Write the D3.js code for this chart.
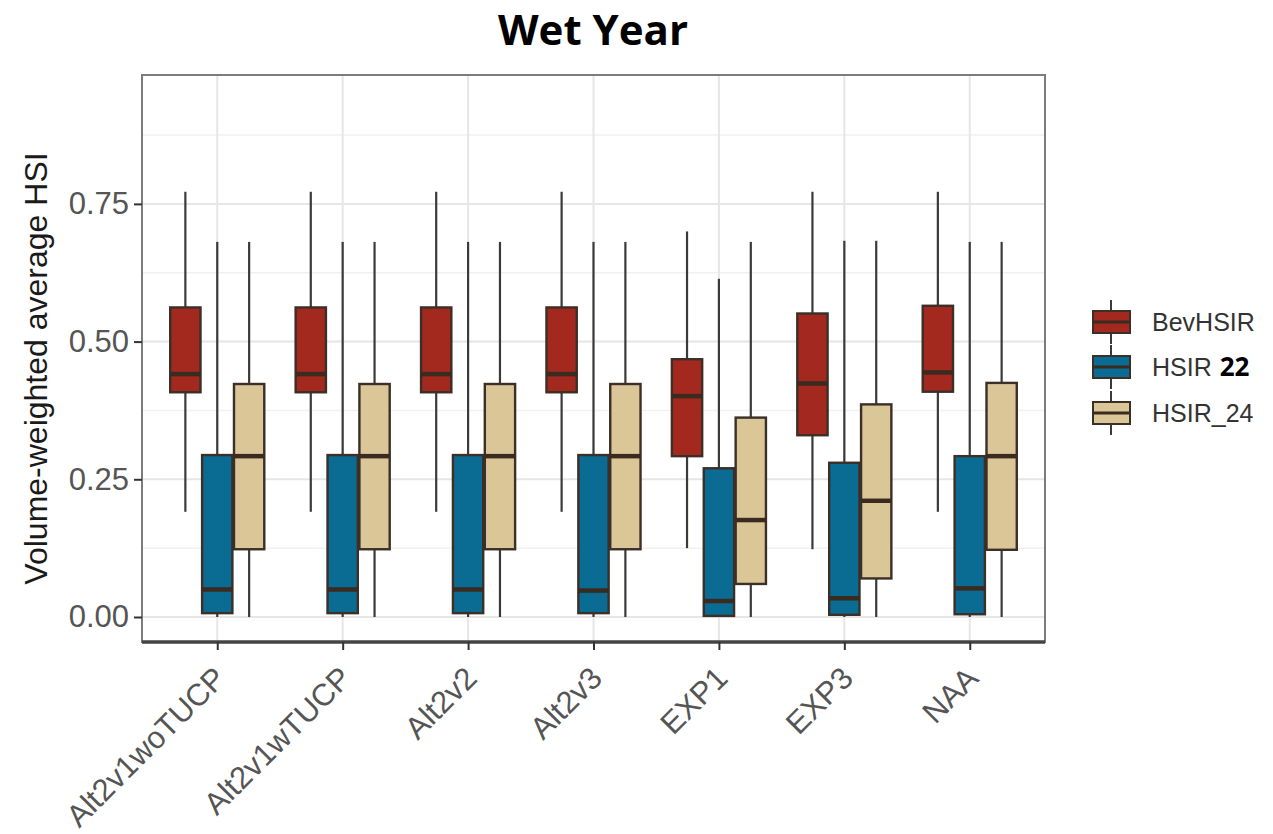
<!DOCTYPE html>
<html>
<head>
<meta charset="utf-8">
<script src="https://cdn.jsdelivr.net/npm/d3@7"></script>
<style>
  html, body { margin: 0; padding: 0; background: #fff; }
  svg { display: block; }
</style>
</head>
<body>
<svg id="chart" width="1273" height="834"></svg>
<script>
// Scenario names along the x axis
const categories = ["Alt2v1woTUCP", "Alt2v1wTUCP", "Alt2v2", "Alt2v3", "EXP1", "EXP3", "NAA"];
const seriesNames = ["BevHSIR", "HSIR 22", "HSIR_24"];
const yTicks = [0, 0.25, 0.5, 0.75];
const yTickLabels = ["0.00", "0.25", "0.50", "0.75"];

// BevHSIR box statistics per scenario
const bevMin = [0.191, 0.191, 0.191, 0.191, 0.125, 0.123, 0.191];
const bevQ1  = [0.408, 0.408, 0.408, 0.408, 0.292, 0.330, 0.409];
const bevMed = [0.441, 0.441, 0.441, 0.441, 0.401, 0.424, 0.444];
const bevQ3  = [0.562, 0.562, 0.562, 0.562, 0.468, 0.551, 0.565];
const bevMax = [0.772, 0.772, 0.772, 0.772, 0.700, 0.772, 0.772];

// HSIR 22 box statistics per scenario
const h22Min = [0.000, 0.000, 0.000, 0.000, 0.000, 0.000, 0.000];
const h22Q1  = [0.007, 0.007, 0.007, 0.007, 0.002, 0.004, 0.005];
const h22Med = [0.050, 0.050, 0.050, 0.048, 0.029, 0.034, 0.052];
const h22Q3  = [0.294, 0.294, 0.294, 0.294, 0.270, 0.280, 0.292];
const h22Max = [0.681, 0.681, 0.681, 0.681, 0.614, 0.683, 0.681];

// HSIR_24 box statistics per scenario
const h24Min = [0.000, 0.000, 0.000, 0.000, 0.000, 0.000, 0.000];
const h24Q1  = [0.123, 0.123, 0.123, 0.123, 0.060, 0.070, 0.122];
const h24Med = [0.292, 0.292, 0.292, 0.292, 0.176, 0.211, 0.292];
const h24Q3  = [0.423, 0.423, 0.423, 0.423, 0.362, 0.386, 0.425];
const h24Max = [0.681, 0.681, 0.681, 0.681, 0.681, 0.683, 0.681];

const fills = ["#a3291e", "#0b6c93", "#dbc698"];

const statsBySeries = [
  [bevMin, bevQ1, bevMed, bevQ3, bevMax],
  [h22Min, h22Q1, h22Med, h22Q3, h22Max],
  [h24Min, h24Q1, h24Med, h24Q3, h24Max]
];

const boxes = [];
seriesNames.forEach((s, si) => {
  const [mn, q1, md, q3, mx] = statsBySeries[si];
  categories.forEach((c, ci) => {
    boxes.push({ cat: c, series: s, si, min: mn[ci], q1: q1[ci], med: md[ci], q3: q3[ci], max: mx[ci] });
  });
});

const svg = d3.select("#chart");
const panel = { left: 142, right: 1045, top: 75, bottom: 642 };

const x = d3.scalePoint().domain(categories).range([panel.left, panel.right]).padding(0.6);
const step = x.step();
const dodge = d3.scaleBand().domain(seriesNames).range([-0.375 * step, 0.375 * step]).paddingInner(0.05);
const y = d3.scaleLinear().domain([-0.0454, 0.984]).range([panel.bottom, panel.top]);

// Grid: minor then major lines
const g = svg.append("g");
const minor = [0.125, 0.375, 0.625, 0.875];
g.selectAll("line.minor").data(minor).join("line")
  .attr("x1", panel.left).attr("x2", panel.right)
  .attr("y1", d => y(d)).attr("y2", d => y(d))
  .attr("stroke", "#f1f1f1").attr("stroke-width", 1.5);
g.selectAll("line.major").data(yTicks).join("line")
  .attr("x1", panel.left).attr("x2", panel.right)
  .attr("y1", d => y(d)).attr("y2", d => y(d))
  .attr("stroke", "#e6e6e6").attr("stroke-width", 2);
g.selectAll("line.vmajor").data(categories).join("line")
  .attr("x1", d => x(d)).attr("x2", d => x(d))
  .attr("y1", panel.top).attr("y2", panel.bottom)
  .attr("stroke", "#e6e6e6").attr("stroke-width", 2);

// Box plots
const bx = d => x(d.cat) + dodge(d.series);
const bw = dodge.bandwidth();
const bg = svg.append("g").selectAll("g").data(boxes).join("g");
bg.append("line")
  .attr("x1", d => bx(d) + bw / 2).attr("x2", d => bx(d) + bw / 2)
  .attr("y1", d => y(d.max)).attr("y2", d => y(d.q3))
  .attr("stroke", "#3a3a3a").attr("stroke-width", 2.2);
bg.append("line")
  .attr("x1", d => bx(d) + bw / 2).attr("x2", d => bx(d) + bw / 2)
  .attr("y1", d => y(d.q1)).attr("y2", d => y(d.min))
  .attr("stroke", "#3a3a3a").attr("stroke-width", 2.2);
bg.append("rect")
  .attr("x", d => bx(d)).attr("width", bw)
  .attr("y", d => y(d.q3)).attr("height", d => y(d.q1) - y(d.q3))
  .attr("fill", d => fills[d.si])
  .attr("stroke", "#3b2f27").attr("stroke-width", 2.4);
bg.append("line")
  .attr("x1", d => bx(d)).attr("x2", d => bx(d) + bw)
  .attr("y1", d => y(d.med)).attr("y2", d => y(d.med))
  .attr("stroke", "#3a2a20").attr("stroke-width", 4.5);

// Panel border and bottom axis line
svg.append("rect")
  .attr("x", panel.left).attr("y", panel.top)
  .attr("width", panel.right - panel.left).attr("height", panel.bottom - panel.top)
  .attr("fill", "none").attr("stroke", "#7c7c7c").attr("stroke-width", 2);
svg.append("line")
  .attr("x1", panel.left).attr("x2", panel.right)
  .attr("y1", panel.bottom).attr("y2", panel.bottom)
  .attr("stroke", "#444").attr("stroke-width", 3.5);

// Y axis
const yAxis = d3.axisLeft(y).tickValues(yTicks)
  .tickFormat((d, i) => yTickLabels[i]).tickSize(8).tickPadding(5);
const ya = svg.append("g").attr("transform", `translate(${panel.left},0)`).call(yAxis);
ya.select(".domain").remove();
ya.selectAll(".tick line").attr("stroke", "#333").attr("stroke-width", 2);
ya.selectAll(".tick text")
  .attr("fill", "#555").attr("font-family", "Liberation Sans, Arial, sans-serif")
  .attr("font-size", 31);

// X axis
const xAxis = d3.axisBottom(x).tickSize(8).tickPadding(4);
const xa = svg.append("g").attr("transform", `translate(0,${panel.bottom})`).call(xAxis);
xa.select(".domain").remove();
xa.selectAll(".tick line").attr("stroke", "#333").attr("stroke-width", 2);
xa.selectAll(".tick text")
  .attr("fill", "#555").attr("font-family", "Liberation Sans, Arial, sans-serif")
  .attr("font-size", 31)
  .attr("text-anchor", "end")
  .attr("dy", null).attr("y", null)
  .attr("transform", "translate(10,38) rotate(-45)");

// Axis title
svg.append("text")
  .attr("transform", `translate(47,${(panel.top + panel.bottom) / 2 + 10}) rotate(-90)`)
  .attr("text-anchor", "middle")
  .attr("font-family", "Liberation Sans, Arial, sans-serif")
  .attr("font-size", 32).attr("fill", "#1a1a1a")
  .text("Volume-weighted average HSI");

// Title
svg.append("text")
  .attr("x", 593).attr("y", 45).attr("text-anchor", "middle")
  .attr("font-family", "Open Sans, sans-serif").attr("font-weight", "bold")
  .attr("font-size", 42).attr("fill", "#000")
  .text("Wet Year");

// Legend
const legCenters = [322, 367, 413];
const leg = svg.append("g").selectAll("g").data(seriesNames).join("g")
  .attr("transform", (d, i) => `translate(1111,${legCenters[i]})`);
leg.append("line").attr("y1", -22).attr("y2", 22)
  .attr("stroke", "#3a3a3a").attr("stroke-width", 2);
leg.append("rect").attr("x", -18).attr("y", -11).attr("width", 37).attr("height", 22)
  .attr("fill", (d, i) => fills[i]).attr("stroke", "#3b2f27").attr("stroke-width", 2);
leg.append("line").attr("x1", -18).attr("x2", 19)
  .attr("stroke", "#3a2a20").attr("stroke-width", 3);
const lt = leg.append("text").attr("x", 41).attr("y", 9)
  .attr("font-family", "Liberation Sans, Arial, sans-serif")
  .attr("font-size", 25).attr("fill", "#333");
lt.each(function (d) {
  const t = d3.select(this);
  const parts = d.split(" ");
  t.append("tspan").text(parts[0]);
  if (parts[1]) {
    t.append("tspan").attr("dx", 8)
      .attr("font-family", "Open Sans, sans-serif").attr("font-weight", "bold")
      .attr("font-size", 26).attr("fill", "#000").text(parts[1]);
  }
});
</script>
</body>
</html>
